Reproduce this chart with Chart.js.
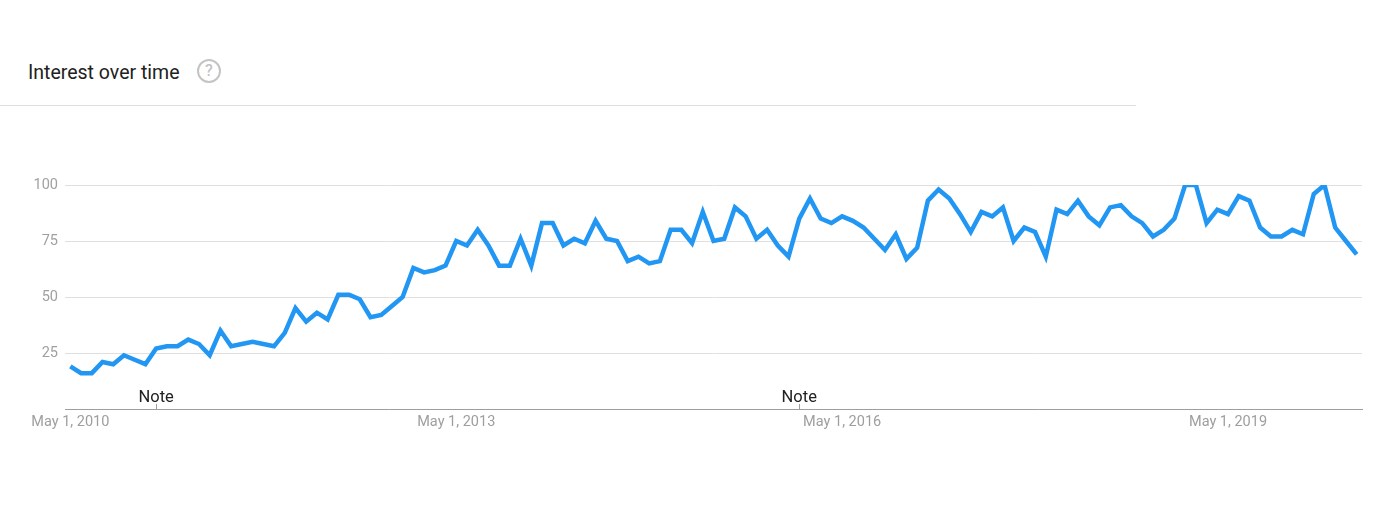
<!DOCTYPE html>
<html>
<head>
<meta charset="utf-8">
<script src="https://cdn.jsdelivr.net/npm/chart.js@4/dist/chart.umd.min.js"></script>
<style>
  body { margin: 0; background: #fff; font-family: Roboto, sans-serif; }
  #wrap { position: relative; width: 1400px; height: 521px; overflow: hidden; }
  #title { position: absolute; left: 28px; top: 61px; font-size: 19.5px; color: #212121; }
  #help {
    position: absolute; left: 197px; top: 59px; width: 20px; height: 20px;
    border: 2px solid #c4c4c4; border-radius: 50%; color: #c4c4c4;
    font-size: 16px; line-height: 20px; text-align: center; font-weight: 500;
  }
  #sep { position: absolute; left: 0; top: 105px; width: 1136px; height: 1px; background: #e0e0e0; }
  canvas { position: absolute; left: 0; top: 0; }
</style>
</head>
<body>
<div id="wrap">
  <div id="title">Interest over time</div>
  <div id="help">?</div>
  <div id="sep"></div>
  <canvas id="trendChart" width="1400" height="521"></canvas>
</div>
<script>
// monthly values, May 2010 .. May 2020
const interest = [
  19, 16, 16, 21, 20, 24, 22, 20, 27, 28,
  28, 31, 29, 24, 35, 28, 29, 30, 29, 28,
  34, 45, 39, 43, 40, 51, 51, 49, 41, 42,
  46, 50, 63, 61, 62, 64, 75, 73, 80, 73,
  64, 64, 76, 64, 83, 83, 73, 76, 74, 84,
  76, 75, 66, 68, 65, 66, 80, 80, 74, 88,
  75, 76, 90, 86, 76, 80, 73, 68, 85, 94,
  85, 83, 86, 84, 81, 76, 71, 78, 67, 72,
  93, 98, 94, 87, 79, 88, 86, 90, 75, 81,
  79, 68, 89, 87, 93, 86, 82, 90, 91, 86,
  83, 77, 80, 85, 100, 100, 83, 89, 87, 95,
  93, 81, 77, 77, 80, 78, 96, 100, 81, 75, 69
];
const monthNames = ["Jan", "Feb", "Mar", "Apr", "May", "Jun", "Jul", "Aug", "Sep", "Oct", "Nov", "Dec"];
const months = interest.map((v, i) => {
  const m = (4 + i) % 12;
  const y = 2010 + Math.floor((4 + i) / 12);
  return `${monthNames[m]} 1, ${y}`;
});
const tickLabels = ["May 1, 2010", "May 1, 2013", "May 1, 2016", "May 1, 2019"];
const yTicks = [25, 50, 75, 100];
const notes = ["Jan 1, 2011", "Jan 1, 2016"];

// draws the "Note" markers on the x axis
const notePlugin = {
  id: "notes",
  afterDraw(chart) {
    const ctx = chart.ctx;
    const x = chart.scales.x;
    const bottom = chart.chartArea.bottom;
    ctx.save();
    notes.forEach((n) => {
      const px = x.getPixelForValue(months.indexOf(n));
      ctx.strokeStyle = "#9e9e9e";
      ctx.lineWidth = 1;
      ctx.beginPath();
      ctx.moveTo(Math.round(px) + 0.5, bottom - 5);
      ctx.lineTo(Math.round(px) + 0.5, bottom);
      ctx.stroke();
      ctx.fillStyle = "#212121";
      ctx.font = "16.5px Roboto";
      ctx.textAlign = "center";
      ctx.textBaseline = "alphabetic";
      ctx.fillText("Note", px, bottom - 7);
    });
    ctx.restore();
  },
};

new Chart(document.getElementById("trendChart"), {
  type: "line",
  data: {
    labels: months,
    datasets: [
      {
        data: interest,
        borderColor: "#2196f3",
        borderWidth: 4.5,
        pointRadius: 0,
        tension: 0,
        fill: false,
      },
    ],
  },
  options: {
    responsive: false,
    animation: false,
    layout: { padding: { top: 185, right: 38, bottom: 82, left: 0 } },
    plugins: { legend: { display: false }, tooltip: { enabled: false } },
    scales: {
      x: {
        offset: true,
        grid: { display: false, drawTicks: false },
        border: { display: true, color: "#9e9e9e", width: 1 },
        ticks: {
          autoSkip: false,
          maxRotation: 0,
          padding: 5,
          color: "#9e9e9e",
          font: { family: "Roboto", size: 14.5 },
          callback: function (v) {
            const l = months[v];
            return tickLabels.includes(l) ? l : "";
          },
        },
        afterFit: (s) => { s.height = 30; },
      },
      y: {
        min: 0,
        max: 100,
        afterBuildTicks: (s) => { s.ticks = [0, ...yTicks].map((v) => ({ value: v })); },
        grid: { color: "#e0e0e0", drawTicks: false },
        border: { display: false },
        ticks: {
          padding: 7,
          color: "#a0a0a0",
          font: { family: "Roboto", size: 14.5 },
          callback: (v) => (v === 0 ? "" : v),
        },
        afterFit: (s) => { s.width = 65; },
      },
    },
  },
  plugins: [notePlugin],
});
</script>
</body>
</html>
